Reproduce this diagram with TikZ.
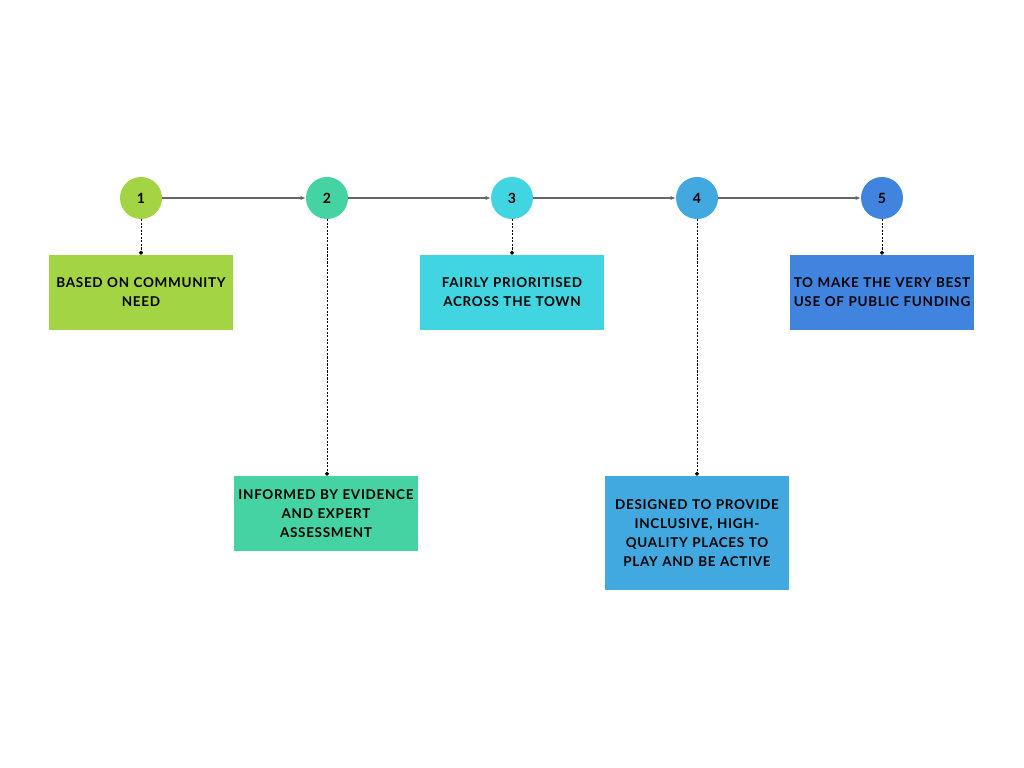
\documentclass[tikz,border=0pt]{standalone}
\usepackage{fontspec}
\setmainfont[LetterSpace=5]{Lato}
\usetikzlibrary{arrows.meta, positioning}
\definecolor{cOne}{HTML}{A2D443}
\definecolor{cTwo}{HTML}{45D3A3}
\definecolor{cThree}{HTML}{41D4E1}
\definecolor{cFour}{HTML}{41A8E0}
\definecolor{cFive}{HTML}{4184E0}
\definecolor{lineGray}{HTML}{666666}

\begin{document}
\begin{tikzpicture}[x=0.025cm, y=-0.025cm, >=Latex,
				Step/.style={
				circle,
				minimum size=1.05cm,
				inner sep=0pt,
				font=\fontsize{10}{11}\selectfont\bfseries},
				Box/.style={
				rectangle,
				minimum width=4.6cm,
				minimum height=1.875cm,
				text width=4.55cm,
				inner sep=0pt,
				align=center,
				font=\fontsize{9.6}{13.5}\selectfont\bfseries},
				Flow/.style={
				draw=lineGray,
				line width=1pt,
				-{Latex[length=1.3mm,width=1.1mm]}},
				Link/.style={
				draw=black,
				line width=0.6pt,
				dash pattern=on 1.5pt off 1pt,
				-{Circle[length=1mm]}}]
				\useasboundingbox (0,0) rectangle (1024,768);
				% Numbered steps
				\node[Step, fill=cOne] (c1) at (141,198) {1};
				\node[Step, fill=cTwo] (c2) at (327,198) {2};
				\node[Step, fill=cThree] (c3) at (512,198) {3};
				\node[Step, fill=cFour] (c4) at (697,198) {4};
				\node[Step, fill=cFive] (c5) at (882,198) {5};
				% Text boxes
				\node[Box, fill=cOne] (b1) at (141,292.5) {BASED ON COMMUNITY\\NEED};
				\node[Box, fill=cTwo] (b2) at (326,513.5) {INFORMED BY EVIDENCE\\AND EXPERT\\ASSESSMENT};
				\node[Box, fill=cThree] (b3) at (512,292.5) {FAIRLY PRIORITISED\\ACROSS THE TOWN};
				\node[Box, fill=cFour, minimum height=2.85cm] (b4) at (697,533) {DESIGNED TO PROVIDE\\INCLUSIVE, HIGH-\\QUALITY PLACES TO\\PLAY AND BE ACTIVE};
				\node[Box, fill=cFive] (b5) at (882,292.5) {TO MAKE THE VERY BEST\\USE OF PUBLIC FUNDING};
				% Connectors
				\foreach \a/\b in {1/2, 2/3, 3/4, 4/5}
					\draw[Flow] (c\a) -- (c\b);
				\foreach \i in {1,...,5}
					\draw[Link] (c\i) -- (c\i |- b\i.north);
			\end{tikzpicture}
\end{document}
